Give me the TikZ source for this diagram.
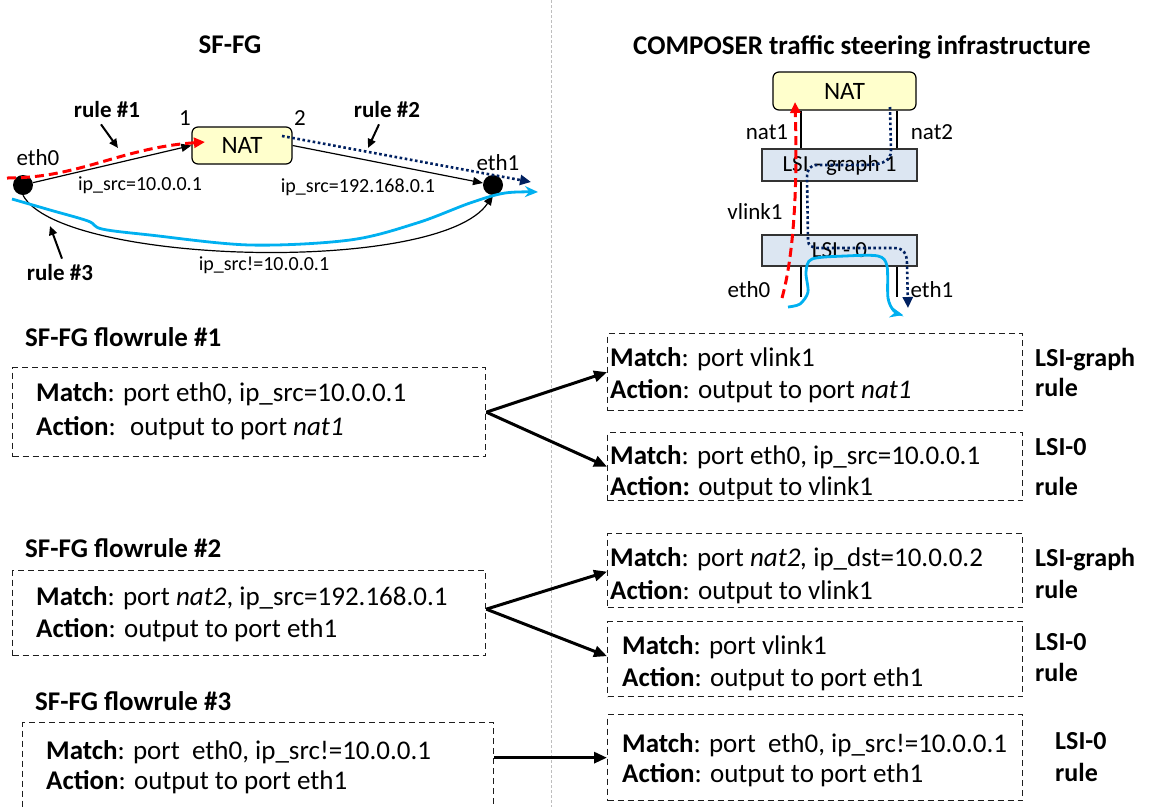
\documentclass[tikz,border=0pt]{standalone}
\usepackage{fontspec}
\setmainfont{Carlito}
\usetikzlibrary{arrows.meta}
\definecolor{natfill}{RGB}{255,255,204}
\definecolor{lsifill}{RGB}{220,230,242}
\definecolor{navyline}{RGB}{0,32,96}
\definecolor{cyanline}{RGB}{0,176,240}
\definecolor{divgray}{RGB}{190,190,190}
\definecolor{boxline}{RGB}{30,30,30}
\begin{document}
\begin{tikzpicture}[x=1pt,y=-1pt,
  rulebox/.style={draw=boxline, dash pattern=on 6pt off 4pt, line width=1.3pt, anchor=north west, inner sep=0pt},
  txt/.style={font=\fontsize{27}{32}\selectfont, anchor=base west, inner sep=0pt},
  side/.style={font=\fontsize{26}{31}\selectfont\bfseries, anchor=base west, inner sep=0pt},
  ttl/.style={font=\fontsize{27}{32}\selectfont\bfseries, inner sep=0pt},
  fttl/.style={font=\fontsize{27}{32}\selectfont\bfseries, anchor=west, inner sep=0pt},
  fork/.style={line width=3pt, -{Triangle[length=13pt,width=11pt]}},
  gedge/.style={line width=1.2pt, -{Triangle[length=10pt,width=8pt]}},
  rarrow/.style={line width=2pt, -{Triangle[length=9pt,width=8pt]}},
  glab/.style={font=\fontsize{20}{24}\selectfont, inner sep=0pt},
  ethlab/.style={font=\fontsize{23}{27}\selectfont, inner sep=0pt},
  rlab/.style={font=\fontsize{23}{27}\selectfont\bfseries, inner sep=0pt},
  dot/.style={circle, fill=black, minimum size=20pt, inner sep=0pt},
  natbox/.style={draw=black, line width=1.2pt, rounded corners=6pt, fill=natfill, inner sep=0pt, font=\fontsize{25}{30}\selectfont},
  lsibox/.style={draw=black!80, line width=1.2pt, fill=lsifill, inner sep=0pt, font=\fontsize{23}{27}\selectfont},
  port/.style={line width=1.6pt},
  redflow/.style={red, line width=3pt, dash pattern=on 9pt off 5pt, -{Triangle[length=11pt,width=10pt]}},
  navyflow/.style={navyline, line width=2.6pt, dash pattern=on 2.6pt off 2.6pt, -{Triangle[length=11pt,width=10pt]}},
  cyanflow/.style={cyanline, line width=2.8pt, -{Stealth[length=13pt,width=11pt]}}
]
\useasboundingbox (0,0) rectangle (1152,807);

% divider
\draw[divgray, line width=1pt, dash pattern=on 3pt off 2pt] (551,0) -- (551,807);

% titles
\node[ttl] (t1) at (230,45) {SF-FG};
\node[ttl] (t2) at (862,47) {COMPOSER traffic steering infrastructure};

% ---------------- SF-FG graph ----------------
\node[dot] (e0) at (23,185) {};
\node[dot] (e1) at (493,185) {};
\node[natbox, minimum width=100pt, minimum height=37pt] (nat) at (242,145.5) {NAT};
\node[ethlab] (e0l) at (38,158) {eth0};
\node[ethlab] (e1l) at (498,163) {eth1};
\node[ethlab] (n1l) at (185,118) {1};
\node[ethlab] (n2l) at (300,118) {2};

\draw[gedge] (e0) -- (nat.west);
\draw[gedge] (nat.east) -- (e1);
\draw[gedge] (e0.south) .. controls (60,265) and (440,275) .. (e1.south);

\node[glab] (g1) at (140,185) {ip\_src=10.0.0.1};
\node[glab] (g2) at (358,187) {ip\_src=192.168.0.1};
\node[glab] (g3) at (264,265) {ip\_src!=10.0.0.1};

\node[rlab] (r1) at (107,110) {rule \#1};
\node[rlab] (r2) at (387,110) {rule \#2};
\node[rlab] (r3) at (60,273) {rule \#3};
\coordinate (r1t) at (118,148);
\coordinate (r2t) at (368,148);
\coordinate (r3t) at (50,226);
\draw[rarrow] (r1.south) ++(-6,6) -- (r1t);
\draw[rarrow] (r2.south) ++(-8,6) -- (r2t);
\draw[rarrow] (r3.north) ++(2,-6) -- (r3t);

% flows on SF-FG
\coordinate (rs) at (7,178);
\coordinate (re) at (205,142);
\draw[redflow] (rs) .. controls (80,178) and (120,148) .. (re);
\coordinate (ns) at (282,136);
\coordinate (ne) at (531,182);
\draw[navyflow] (ns) -- (ne);
\draw[cyanflow] plot[smooth, tension=0.55] coordinates {(12,199) (50,210) (88,221) (102,229) (150,235) (250,245) (350,240) (417,223) (470,203) (505,193) (538,192)};

% ---------------- COMPOSER infrastructure ----------------
\node[natbox, minimum width=143pt, minimum height=38pt] (nat2b) at (844.5,91) {NAT};
\node[lsibox, minimum width=155pt, minimum height=32pt] (lsig) at (839.5,165) {LSI - graph 1};
\node[lsibox, minimum width=155pt, minimum height=31pt] (lsi0) at (839.5,250.5) {LSI - 0};
\coordinate (p1x) at (801,0);
\coordinate (p2x) at (897,0);
\coordinate (eth0e) at (801,297);
\coordinate (eth1e) at (897,297);
\draw[port] (nat2b.south -| p1x) -- (lsig.north -| p1x);
\draw[port] (nat2b.south -| p2x) -- (lsig.north -| p2x);
\draw[port] (lsig.south -| p1x) -- (lsi0.north -| p1x);
\draw[port] (lsi0.south -| p1x) -- (eth0e);
\draw[port] (lsi0.south -| p2x) -- (eth1e);
\node[ethlab] (nat1l) at (767,132) {nat1};
\node[ethlab] (nat2l) at (932,132) {nat2};
\node[ethlab] (vl) at (755,212) {vlink1};
\node[ethlab] (e0r) at (749,290) {eth0};
\node[ethlab] (e1r) at (932,290) {eth1};

\coordinate (rrs) at (782,298);
\coordinate (rre) at (795,102);
\draw[redflow] (rrs) .. controls (792,262) and (798,200) .. (rre);
\coordinate (nrs) at (890,107);
\coordinate (nre) at (908,308);
\draw[navyflow] (nrs) -- (891,150) .. controls (891,163) and (880,165) .. (860,165) -- (818,165)
  .. controls (809,165) and (807,170) .. (807,178) -- (808,240)
  .. controls (808,246) and (812,248) .. (820,248) -- (894,248)
  .. controls (904,248) and (907,254) .. (907,264) -- (nre);
\draw[cyanflow] plot[smooth, tension=0.5] coordinates {(788,307) (800,304) (808,292) (806,272) (812,259) (845,256) (878,256) (887,266) (888,298) (894,311) (903,315)};

% ---------------- flowrule boxes (left) ----------------
\node[fttl] (ft1) at (25,337) {SF-FG flowrule \#1};
\node[rulebox, minimum width=473pt, minimum height=89pt] (b1) at (12,367) {};
\node[txt] (b1a) at (36,401) {\textbf{Match}: port eth0, ip\_src=10.0.0.1};
\node[txt] (b1b) at (36,435) {\textbf{Action}:~ output to port \textit{nat1}};

\node[fttl] (ft2) at (25,548) {SF-FG flowrule \#2};
\node[rulebox, minimum width=473pt, minimum height=85pt] (b2) at (12,570) {};
\node[txt] (b2a) at (36,605) {\textbf{Match}: port \textit{nat2}, ip\_src=192.168.0.1};
\node[txt] (b2b) at (36,637) {\textbf{Action}: output to port eth1};

\node[fttl] (ft3) at (35,701) {SF-FG flowrule \#3};
\node[rulebox, minimum width=471pt, minimum height=110pt] (b3) at (22,722) {};
\node[txt] (b3a) at (46,759) {\textbf{Match}: port~ eth0, ip\_src!=10.0.0.1};
\node[txt] (b3b) at (46,789) {\textbf{Action}: output to port eth1};

% ---------------- rule boxes (right) ----------------
\node[rulebox, minimum width=415pt, minimum height=77pt] (bA) at (607,333) {};
\node[txt] (bAa) at (610,366) {\textbf{Match}: port vlink1};
\node[txt] (bAb) at (610,398) {\textbf{Action}: output to port \textit{nat1}};
\node[side] (sA1) at (1035,366) {LSI-graph};
\node[side] (sA2) at (1035,396) {rule};

\node[rulebox, minimum width=415pt, minimum height=68pt] (bB) at (607,432) {};
\node[txt] (bBa) at (610,464) {\textbf{Match}: port eth0, ip\_src=10.0.0.1};
\node[txt] (bBb) at (610,495) {\textbf{Action:} output to vlink1};
\node[side] (sB1) at (1035,455) {LSI-0};
\node[side] (sB2) at (1035,495) {rule};

\node[rulebox, minimum width=415pt, minimum height=74pt] (bC) at (607,533) {};
\node[txt] (bCa) at (610,566) {\textbf{Match}: port \textit{nat2,} ip\_dst=10.0.0.2};
\node[txt] (bCb) at (610,599) {\textbf{Action}: output to vlink1};
\node[side] (sC1) at (1035,566) {LSI-graph};
\node[side] (sC2) at (1035,598) {rule};

\node[rulebox, minimum width=415pt, minimum height=75pt] (bD) at (607,621) {};
\node[txt] (bDa) at (622,654) {\textbf{Match}: port vlink1};
\node[txt] (bDb) at (622,686) {\textbf{Action}: output to port eth1};
\node[side] (sD1) at (1035,650) {LSI-0};
\node[side] (sD2) at (1035,681) {rule};

\node[rulebox, minimum width=415pt, minimum height=86pt] (bE) at (607,714) {};
\node[txt] (bEa) at (622,752) {\textbf{Match}: port~ eth0, ip\_src!=10.0.0.1};
\node[txt] (bEb) at (622,782) {\textbf{Action}: output to port eth1};
\node[side] (sE1) at (1055,749) {LSI-0};
\node[side] (sE2) at (1055,781) {rule};

% ---------------- fork arrows ----------------
\coordinate (f1) at (b1.east);
\draw[fork] (f1) -- (bA.west);
\draw[fork] (f1) -- (bB.west);
\coordinate (f2) at ([yshift=4pt]b2.east);
\draw[fork] (f2) -- ([yshift=-1pt]bC.west);
\draw[fork] (f2) -- ([yshift=3pt]bD.west);
\draw[fork] (b3.east |- bE.west) -- (bE.west);
\end{tikzpicture}
\end{document}
